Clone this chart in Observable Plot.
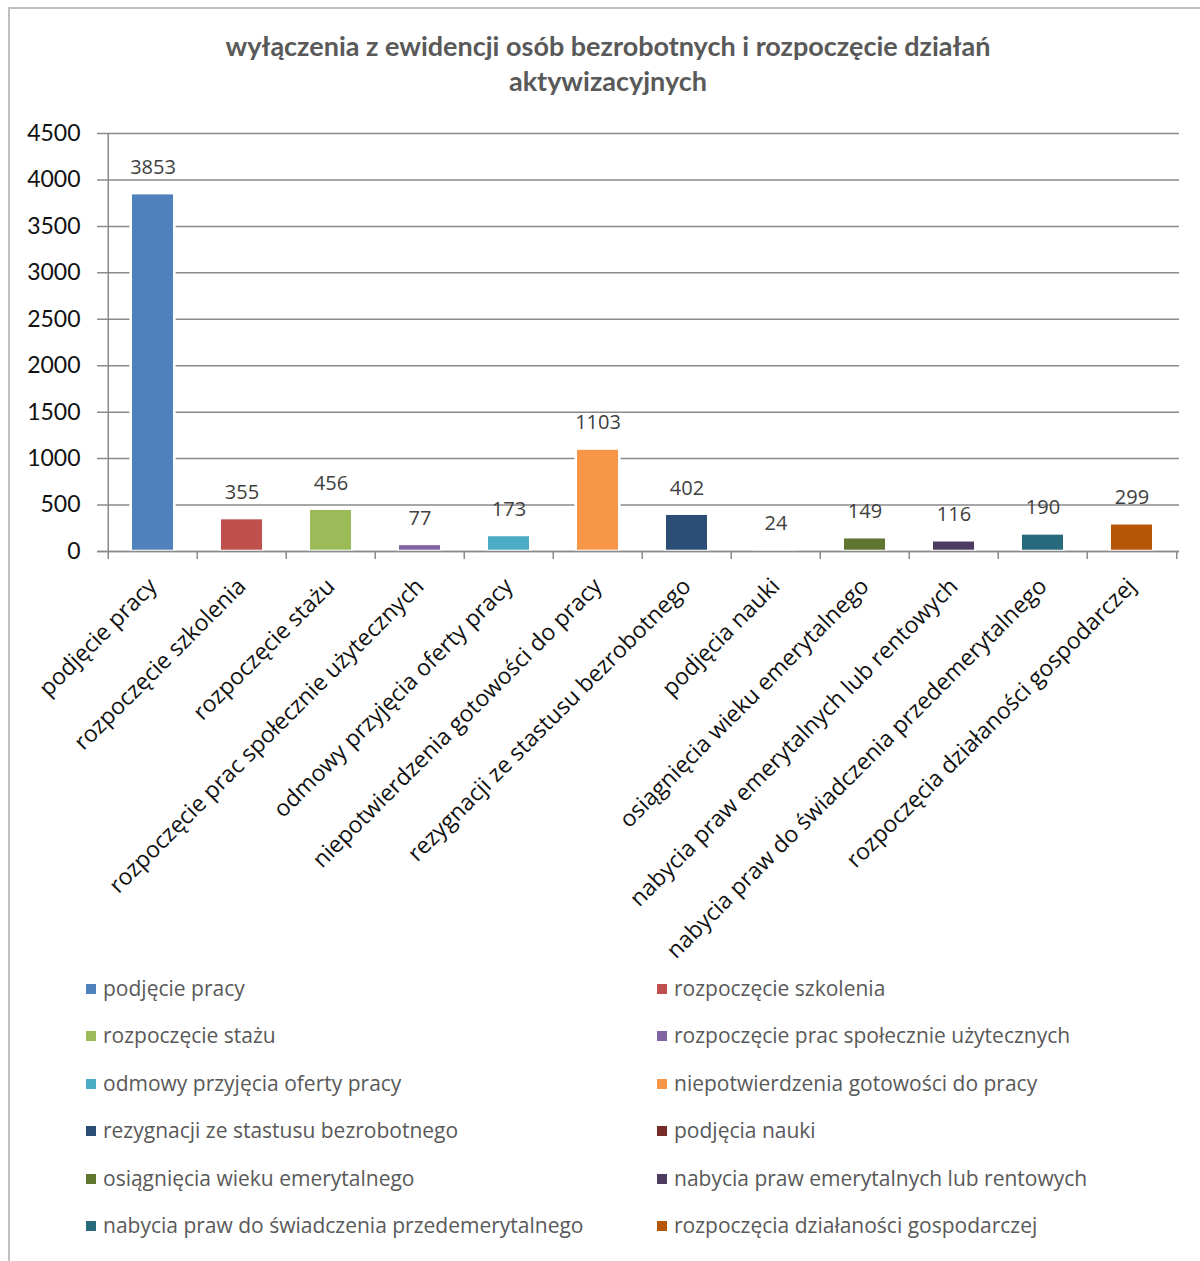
<!DOCTYPE html>
<html>
<head>
<meta charset="utf-8">
<script src="https://cdn.jsdelivr.net/npm/d3@7"></script>
<script src="https://cdn.jsdelivr.net/npm/@observablehq/plot@0.6"></script>
<style>
  html, body { margin: 0; padding: 0; background: #fff; }
  body { width: 1200px; height: 1261px; position: relative; overflow: hidden; font-family: "Open Sans", Lato, sans-serif; }
  #frame { position: absolute; left: 8px; top: 7px; width: 1400px; height: 1400px; border-top: 2px solid #bfbfbf; border-left: 2px solid #bfbfbf; }
  #title { position: absolute; left: 8px; width: 1200px; top: 28px; text-align: center; font-family: Lato, sans-serif; font-weight: bold; font-size: 27px; line-height: 35px; color: #595959; }
  #chart { position: absolute; left: 0; top: 0; }
  #legend { position: absolute; left: 0; top: 0; width: 1200px; }
  .item { position: absolute; font-size: 21px; color: #595959; white-space: nowrap; line-height: 26px; }
  .sw { position: absolute; width: 10px; height: 10px; }
</style>
</head>
<body>
<div id="frame"></div>
<div id="title">wyłączenia z ewidencji osób bezrobotnych i rozpoczęcie działań<br>aktywizacyjnych</div>
<div id="chart"></div>
<div id="legend"></div>
<script>
const categories = [
  "podjęcie pracy",
  "rozpoczęcie szkolenia",
  "rozpoczęcie stażu",
  "rozpoczęcie prac społecznie użytecznych",
  "odmowy przyjęcia oferty pracy",
  "niepotwierdzenia gotowości do pracy",
  "rezygnacji ze stastusu bezrobotnego",
  "podjęcia nauki",
  "osiągnięcia wieku emerytalnego",
  "nabycia praw emerytalnych lub rentowych",
  "nabycia praw do świadczenia przedemerytalnego",
  "rozpoczęcia działaności gospodarczej"
];
const values = [3853, 355, 456, 77, 173, 1103, 402, 24, 149, 116, 190, 299];
const colors = ["#4F81BD", "#C0504D", "#9BBB59", "#8064A2", "#4BACC6", "#F79646",
                "#2C4D75", "#772C2A", "#5F7530", "#4D3B62", "#276A7C", "#B65708"];
const yTicks = [0, 500, 1000, 1500, 2000, 2500, 3000, 3500, 4000, 4500];

const data = categories.map((c, i) => ({cat: c, value: values[i], color: colors[i]}));

const W = 1200, H = 1000;
const mL = 105, mR = 21, mT = 133, mB = H - 551;
const step = (W - mL - mR) / categories.length;
const gridColor = "#8a8a8a";

const chart = Plot.plot({
  width: W,
  height: H,
  marginLeft: mL,
  marginRight: mR,
  marginTop: mT,
  marginBottom: mB,
  style: {fontFamily: "'Open Sans', Lato, sans-serif", background: "transparent"},
  x: {type: "band", domain: categories, paddingInner: 0.54, paddingOuter: 0.27, axis: null},
  y: {domain: [0, 4500], axis: null},
  marks: [
    Plot.ruleY(yTicks, {y: d => d, stroke: gridColor, strokeWidth: 1.5, insetLeft: -8}),
    Plot.text(yTicks, {y: d => d, text: d => String(d), frameAnchor: "left", textAnchor: "end", dx: -25, fontSize: 23, fontFamily: "Lato, sans-serif", fill: "#111"}),
    Plot.barY(data, {x: "cat", y: "value", fill: "color", stroke: "white", strokeWidth: 2.6, insetLeft: -1.3, insetRight: -1.3}),
    Plot.ruleX([categories[0]], {x: d => d, dx: -step / 2, y1: 0, y2: 4500, stroke: gridColor, strokeWidth: 1.5}),
    Plot.ruleY([0], {y: d => d, stroke: gridColor, strokeWidth: 1.5, insetLeft: -8}),
    Plot.ruleX(categories, {x: d => d, dx: -step / 2, y1: 0, y2: 0, insetBottom: -8, stroke: gridColor, strokeWidth: 1.5}),
    Plot.ruleX([categories[categories.length - 1]], {x: d => d, dx: step / 2, y1: 0, y2: 0, insetBottom: -8, stroke: gridColor, strokeWidth: 1.5}),
    Plot.text(data, {x: "cat", y: "value", text: d => String(d.value), dy: -26, fontSize: 20, fill: "#404040"}),
    Plot.text(data, {x: "cat", text: "cat", frameAnchor: "bottom", rotate: -45, textAnchor: "end", lineAnchor: "middle", dx: 0, dy: 31, fontSize: 23, fill: "#111"})
  ]
});
document.getElementById("chart").appendChild(chart);

// legend
const legend = document.getElementById("legend");
const colX = [86, 657];
const rowY0 = 989, rowStep = 47.4;
categories.forEach((c, i) => {
  const col = i % 2, row = Math.floor(i / 2);
  const cy = rowY0 + row * rowStep;
  const sw = document.createElement("div");
  sw.className = "sw";
  sw.style.left = colX[col] + "px";
  sw.style.top = (cy - 5) + "px";
  sw.style.background = colors[i];
  legend.appendChild(sw);
  const t = document.createElement("div");
  t.className = "item";
  t.style.left = (colX[col] + 17) + "px";
  t.style.top = (cy - 14) + "px";
  t.textContent = c;
  legend.appendChild(t);
});
</script>
</body>
</html>
